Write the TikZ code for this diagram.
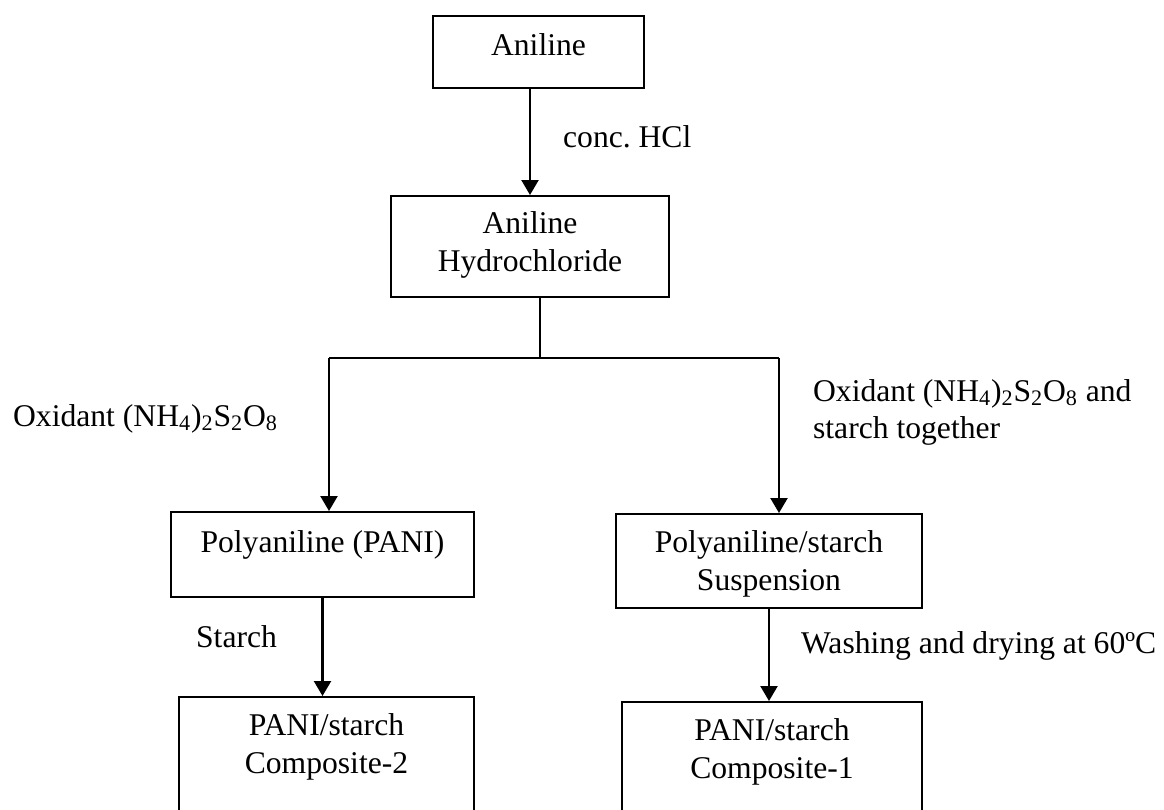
\documentclass[tikz,border=0pt]{standalone}
\usepackage{fontspec}
\setmainfont{Liberation Serif}
\usetikzlibrary{arrows.meta}
\frenchspacing

\begin{document}
\begin{tikzpicture}[x=0.02cm, y=-0.02cm, -{Triangle[length=0.3cm,width=0.34cm]}, line width=1.3pt,
    every node/.append style={font=\fontsize{18pt}{21.5pt}\selectfont}]
  \tikzstyle{stage} = [draw, line width=1pt, anchor=north, inner sep=0pt, align=flush center, text height=0.78cm]
  \tikzstyle{cond} = [anchor=base west, inner sep=0pt]
  \useasboundingbox (0,0) rectangle (1164,809);
  \clip (0,0) rectangle (1164,809);

  \node (aniline) [stage, text width=4.22cm, text height=0.8cm, text depth=0.64cm] at (538.5,15) {Aniline};
  \node (hcl) [stage, text width=5.56cm, text height=0.76cm, text depth=1.26cm] at (530,195) {Aniline\\Hydrochloride};
  \node (pani) [stage, text width=6.06cm, text height=0.82cm, text depth=0.88cm] at (322.5,511) {Polyaniline (PANI)};
  \node (susp) [stage, text width=6.12cm, text depth=1.1cm] at (769,513) {Polyaniline/starch\\Suspension};
  \node (comp2) [stage, text width=5.9cm, text depth=2.1cm] at (326.5,696) {PANI/starch\\Composite-2};
  \node (comp1) [stage, text width=6cm, text depth=2cm] at (772,701) {PANI/starch\\Composite-1};

  \coordinate (split) at (540,358);
  \coordinate (lsplit) at (329,358);
  \coordinate (rsplit) at (779,358);

  \draw (hcl.north |- aniline.south) -- (hcl.north);
  \draw[-, line width=1pt] (hcl.south -| split) -- (split);
  \draw[-] (lsplit) -- (rsplit);
  \draw (lsplit) -- (lsplit |- pani.north);
  \draw (rsplit) -- (rsplit |- susp.north);
  \draw (pani.south) -- (pani.south |- comp2.north);
  \draw (susp.south) -- (susp.south |- comp1.north);

  % reagents and conditions
  \node (hclcond) [cond] at (562,147) {conc. HCl};
  \node (oxcond) [cond] at (12,426) {Oxidant (NH\textsubscript{4})\textsubscript{2}S\textsubscript{2}O\textsubscript{8}};
  \node (oxstarchcond) [cond, text width=6.8cm, align=flush left] at (812,401)
    {Oxidant (NH\textsubscript{4})\textsubscript{2}S\textsubscript{2}O\textsubscript{8} and\\starch together};
  \node (starchcond) [cond] at (195,647) {Starch};
  \node (washcond) [cond] at (800,653) {Washing and drying at 60ºC};
\end{tikzpicture}
\end{document}
